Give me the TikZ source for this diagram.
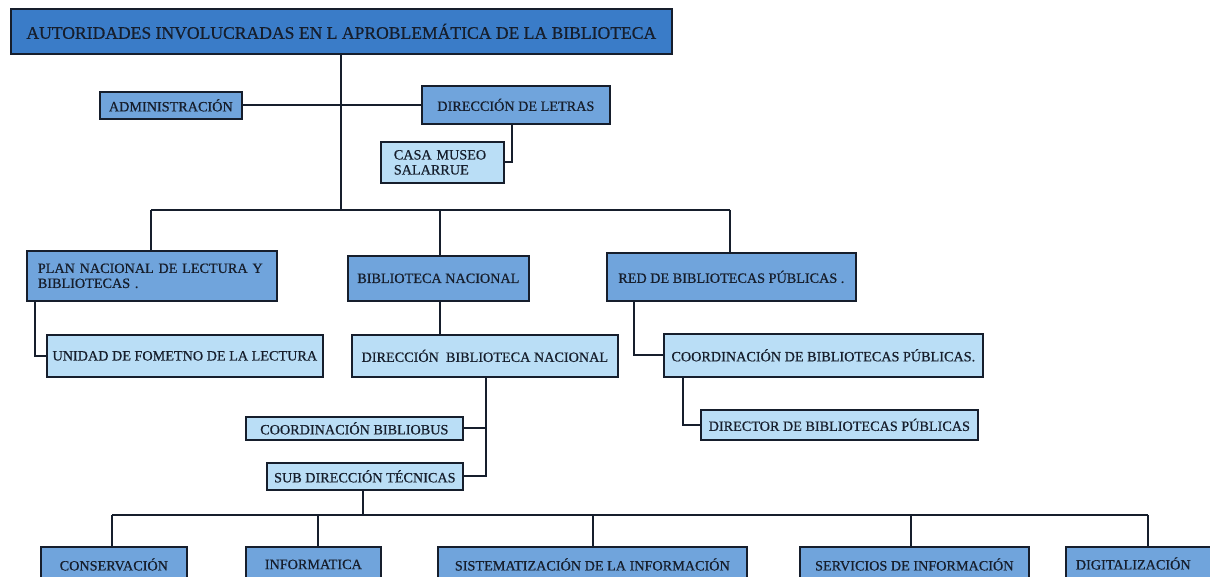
\documentclass[tikz,border=0pt]{standalone}
\usepackage{fontspec}
\setmainfont{Liberation Serif}[FakeBold=0.6]
\definecolor{titleblue}{RGB}{58,124,200}
\definecolor{midblue}{RGB}{112,164,220}
\definecolor{lightblue}{RGB}{186,222,246}
\definecolor{ink}{RGB}{22,30,44}
\tikzset{
  base/.style={draw=ink, line width=1.7pt, anchor=north west, inner sep=0pt, text=ink, font=\fontsize{14.2}{15}\selectfont},
  mid/.style={base, fill=midblue},
  light/.style={base, fill=lightblue},
  conn/.style={draw=ink, line width=1.8pt},
  thick conn/.style={draw=ink, line width=2.5pt},
}
\begin{document}
\begin{tikzpicture}[x=1pt,y=-1pt]
\useasboundingbox (0,0) rectangle (1210,577);
\clip (0,0) rectangle (1210,577);
% title
\node[base, fill=titleblue, minimum width=661, minimum height=45, font=\fontsize{17.6}{19}\selectfont] (title) at (10,8) {AUTORIDADES INVOLUCRADAS EN L APROBLEMÁTICA DE LA BIBLIOTECA};
% level 1
\node[mid, minimum width=142, minimum height=27] (adm) at (99,91) {ADMINISTRACIÓN};
\node[mid, minimum width=188, minimum height=38] (dl) at (421,85) {DIRECCIÓN DE LETRAS};
\node[light, minimum width=123, minimum height=41, text width=113, align=left] (casa) at (380,141) {\hspace*{8pt}CASA MUSEO\\\hspace*{8pt}SALARRUE};
% level 2
\node[mid, minimum width=250, minimum height=50, text width=244, align=left] (plan) at (26,250) {\hspace*{8pt}PLAN NACIONAL DE LECTURA Y\\\hspace*{8pt}BIBLIOTECAS .};
\node[mid, minimum width=181, minimum height=45] (bn) at (347,255) {BIBLIOTECA NACIONAL};
\node[mid, minimum width=249, minimum height=48] (red) at (606,252) {RED DE BIBLIOTECAS PÚBLICAS .};
% level 3
\node[light, minimum width=276, minimum height=42] (unidad) at (46,334) {UNIDAD DE FOMETNO DE LA LECTURA};
\node[light, minimum width=266, minimum height=42] (dbn) at (351,334) {DIRECCIÓN\ \ BIBLIOTECA NACIONAL};
\node[light, minimum width=319, minimum height=43] (cbp) at (663,333) {COORDINACIÓN DE BIBLIOTECAS PÚBLICAS.};
\node[light, minimum width=277, minimum height=30] (dbp) at (700,409) {DIRECTOR DE BIBLIOTECAS PÚBLICAS};
\node[light, minimum width=217, minimum height=23] (cbib) at (245,416) {COORDINACIÓN BIBLIOBUS};
\node[light, minimum width=196, minimum height=27] (sub) at (266,462) {SUB DIRECCIÓN TÉCNICAS};
% level 4
\node[mid, minimum width=146, minimum height=45] (cons) at (40,546) {\raisebox{10pt}{CONSERVACIÓN}};
\node[mid, minimum width=135, minimum height=45] (inf) at (245,546) {\raisebox{10pt}{INFORMATICA}};
\node[mid, minimum width=309, minimum height=45] (sis) at (437,546) {\raisebox{10pt}{SISTEMATIZACIÓN DE LA INFORMACIÓN}};
\node[mid, minimum width=229, minimum height=45] (serv) at (799,546) {\raisebox{10pt}{SERVICIOS DE INFORMACIÓN}};
\node[mid, minimum width=160, minimum height=45, text width=152, align=left] (dig) at (1065,546) {\raisebox{12pt}{\hspace*{6pt}DIGITALIZACIÓN}};
% coordinates
\coordinate (t1) at (341,210);
\coordinate (b1) at (151,210);
\coordinate (b2) at (440,210);
\coordinate (b3) at (730,210);
\coordinate (dv) at (486,475);
\coordinate (h4) at (363,515);
\coordinate (hl) at (112,515);
\coordinate (hr) at (1148,515);
% connectors
\draw[thick conn] (title.south -| t1) -- (t1);
\draw[conn] (adm.east) -- (adm.east -| dl.west);
\draw[conn] (dl.south -| 512,0) |- (casa.east);
\draw[conn] (b1) -- (b3);
\draw[conn] (b1) -- (b1 |- plan.north);
\draw[conn] (b2) -- (b2 |- bn.north);
\draw[conn] (b3) -- (b3 |- red.north);
\draw[conn] (plan.south -| 35,0) |- (unidad.west);
\draw[conn] (bn.south -| b2) -- (b2 |- dbn.north);
\draw[conn] (red.south -| 634,0) |- (cbp.west);
\draw[conn] (cbp.south -| 683,0) |- (dbp.west);
\draw[conn] (dbn.south -| dv) |- (sub.east);
\draw[conn] (cbib.east) -- (cbib.east -| dv);
\draw[conn] (sub.south -| h4) -- (h4);
\draw[conn] (hl) -- (hr);
\draw[conn] (hl) -- (hl |- cons.north);
\draw[thick conn] (318,515) -- (inf.north -| 318,0);
\draw[conn] (593,515) -- (sis.north -| 593,0);
\draw[conn] (911,515) -- (serv.north -| 911,0);
\draw[conn] (hr) -- (hr |- dig.north);
\end{tikzpicture}
\end{document}
